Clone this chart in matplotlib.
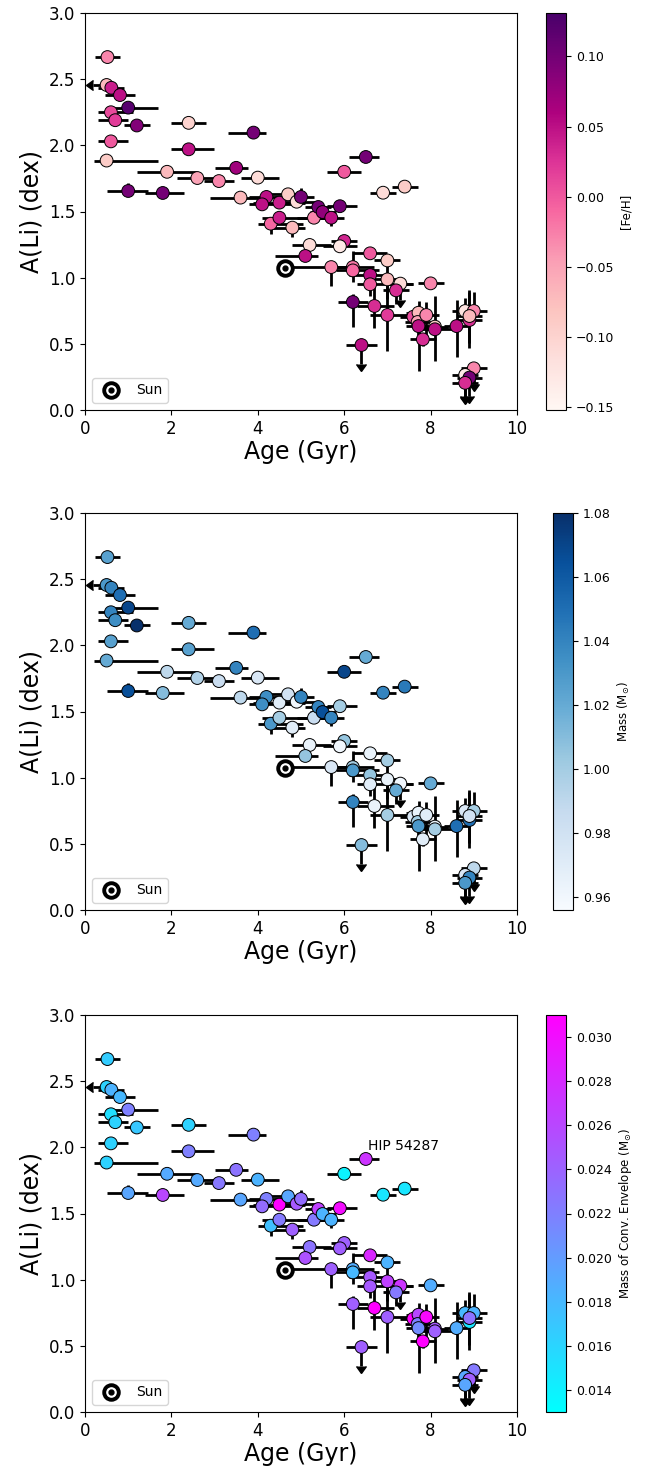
import numpy as np
import matplotlib
matplotlib.use("Agg")
import matplotlib.pyplot as plt
from matplotlib.legend_handler import HandlerTuple
from matplotlib.lines import CARETDOWNBASE, CARETLEFTBASE

# ---- stellar sample -------------------------------------------------------
age = [0.52, 0.50, 0.61, 0.81, 1.00, 0.60, 0.70, 1.20, 0.60, 0.50,
       1.00, 1.80, 1.90, 2.40, 2.40, 2.60, 3.10, 3.50, 3.60, 3.90,
       4.00, 4.20, 4.10, 4.50, 4.70, 4.90, 5.00, 4.30, 4.50, 4.80,
       5.30, 5.40, 5.50, 5.70, 5.90, 6.00, 6.50, 6.90, 7.40, 5.20,
       5.10, 6.00, 5.90, 5.70, 6.20, 6.20, 6.60, 7.00, 6.60, 6.60,
       7.00, 7.30, 7.20, 8.00, 6.20, 6.70, 7.00, 6.40, 7.60, 7.72,
       7.70, 7.72, 7.90, 7.82, 8.10, 8.10, 8.60, 8.80, 9.00, 8.90,
       8.90, 9.00, 8.80, 8.90, 8.80]
age_lo = [0.30, 0.32, 0.30, 0.35, 0.34, 0.30, 0.40, 0.30, 0.30, 0.30,
          0.50, 0.40, 0.70, 0.40, 0.40, 0.48, 0.35, 0.50, 0.70, 0.60,
          0.40, 0.40, 0.30, 0.60, 0.50, 0.50, 0.60, 0.30, 0.40, 0.50,
          0.40, 0.30, 0.30, 0.30, 0.30, 0.40, 0.38, 0.30, 0.30, 0.40,
          0.70, 0.30, 0.40, 0.90, 0.50, 0.40, 0.40, 0.30, 0.50, 0.30,
          0.30, 0.30, 0.30, 0.30, 0.35, 0.40, 0.40, 0.35, 0.30, 0.30,
          0.30, 0.30, 0.30, 0.30, 0.30, 0.30, 0.30, 0.30, 0.30, 0.30,
          0.30, 0.30, 0.30, 0.30, 0.30]
age_hi = [0.30, 0.00, 0.30, 0.35, 0.70, 0.50, 0.30, 0.30, 0.40, 1.20,
          0.45, 0.50, 0.70, 0.40, 0.58, 0.50, 0.35, 0.28, 0.55, 0.30,
          0.50, 0.40, 0.80, 0.60, 0.30, 0.50, 0.30, 0.75, 1.00, 0.30,
          0.30, 0.30, 0.30, 0.30, 0.40, 0.40, 0.30, 0.30, 0.30, 0.50,
          0.30, 0.30, 0.40, 0.40, 0.50, 0.60, 0.40, 0.30, 0.30, 1.00,
          0.30, 0.30, 0.30, 0.30, 0.35, 0.45, 0.60, 0.35, 0.30, 0.30,
          0.30, 0.30, 0.30, 0.30, 0.30, 0.50, 0.30, 0.30, 0.30, 0.30,
          0.30, 0.30, 0.30, 0.30, 0.30]
# age upper limits (only the lower side of the bar is drawn)
age_limit = [False, True] + [False] * 73

ali = [2.667, 2.456, 2.435, 2.380, 2.285, 2.250, 2.190, 2.150, 2.030, 1.885,
       1.655, 1.640, 1.800, 2.170, 1.970, 1.753, 1.730, 1.830, 1.605, 2.096,
       1.756, 1.610, 1.554, 1.567, 1.630, 1.574, 1.610, 1.408, 1.453, 1.378,
       1.453, 1.534, 1.496, 1.453, 1.540, 1.800, 1.912, 1.642, 1.688, 1.247,
       1.164, 1.277, 1.237, 1.080, 1.080, 1.055, 1.184, 1.130, 1.020, 0.950,
       0.987, 0.955, 0.904, 0.957, 0.816, 0.786, 0.718, 0.491, 0.705, 0.735,
       0.665, 0.634, 0.718, 0.534, 0.630, 0.610, 0.634, 0.748, 0.748, 0.680,
       0.710, 0.315, 0.265, 0.245, 0.205]
ali_lo = [0.00, 0.00, 0.00, 0.00, 0.00, 0.00, 0.00, 0.00, 0.00, 0.00,
          0.02, 0.00, 0.00, 0.00, 0.00, 0.00, 0.00, 0.00, 0.00, 0.00,
          0.00, 0.00, 0.00, 0.00, 0.00, 0.00, 0.03, 0.08, 0.00, 0.07,
          0.00, 0.00, 0.00, 0.06, 0.00, 0.00, 0.00, 0.00, 0.00, 0.00,
          0.00, 0.00, 0.00, 0.14, 0.11, 0.00, 0.00, 0.00, 0.00, 0.09,
          0.15, 0.12, 0.10, 0.00, 0.19, 0.17, 0.27, 0.14, 0.00, 0.00,
          0.10, 0.34, 0.19, 0.05, 0.26, 0.00, 0.23, 0.08, 0.07, 0.21,
          0.20, 0.12, 0.16, 0.14, 0.11]
ali_hi = [0.00, 0.00, 0.00, 0.00, 0.00, 0.00, 0.00, 0.00, 0.00, 0.00,
          0.06, 0.00, 0.00, 0.00, 0.00, 0.00, 0.00, 0.00, 0.00, 0.00,
          0.00, 0.00, 0.00, 0.00, 0.00, 0.00, 0.07, 0.03, 0.00, 0.03,
          0.00, 0.00, 0.00, 0.03, 0.00, 0.00, 0.00, 0.00, 0.00, 0.00,
          0.00, 0.00, 0.00, 0.03, 0.12, 0.00, 0.00, 0.00, 0.00, 0.03,
          0.15, 0.00, 0.03, 0.00, 0.06, 0.17, 0.29, 0.00, 0.00, 0.00,
          0.10, 0.19, 0.10, 0.05, 0.23, 0.00, 0.20, 0.10, 0.14, 0.21,
          0.20, 0.00, 0.00, 0.00, 0.00]
# A(Li) upper limits
li_limit = [False] * 75
for i in (51, 57, 71, 72, 73, 74):
    li_limit[i] = True

feh = [-0.03, -0.07, 0.04, 0.05, 0.12, 0.01, 0.02, 0.09, 0.00, -0.09,
       0.10, 0.10, -0.07, -0.10, 0.05, -0.05, -0.03, 0.07, -0.07, 0.10,
       -0.11, 0.05, 0.05, 0.04, -0.09, -0.11, 0.10, -0.01, 0.04, -0.07,
       -0.03, 0.10, 0.08, 0.05, 0.10, 0.00, 0.10, -0.11, -0.09, -0.11,
       0.05, 0.035, -0.13, -0.03, -0.02, -0.01, 0.00, -0.09, 0.05, 0.00,
       -0.07, -0.11, 0.03, -0.03, 0.10, 0.03, 0.02, 0.05, 0.01, -0.07,
       -0.05, 0.05, -0.03, 0.03, -0.09, 0.05, 0.05, -0.12, -0.03, 0.03,
       -0.07, -0.03, -0.13, 0.10, 0.03]
mass = [1.025, 1.030, 1.040, 1.050, 1.070, 1.040, 1.035, 1.080, 1.025, 1.020,
        1.065, 1.010, 0.990, 1.020, 1.025, 0.995, 0.985, 1.040, 0.990, 1.050,
        0.975, 1.035, 1.035, 0.970, 0.980, 0.960, 1.040, 1.030, 1.000, 0.970,
        0.985, 1.040, 1.065, 1.040, 1.000, 1.070, 1.020, 1.040, 1.045, 0.965,
        1.005, 1.005, 0.960, 0.975, 1.000, 1.030, 0.965, 1.000, 1.005, 0.970,
        0.965, 0.960, 1.020, 1.020, 1.040, 0.965, 1.000, 1.010, 0.975, 0.965,
        1.000, 1.030, 0.970, 0.970, 0.965, 1.000, 1.050, 0.975, 1.000, 1.050,
        0.980, 0.990, 0.975, 1.040, 1.030]
m_cz = [0.0166, 0.0162, 0.0184, 0.0180, 0.0220, 0.0153, 0.0162, 0.0170, 0.0162, 0.0162,
        0.0193, 0.0260, 0.0190, 0.0162, 0.0220, 0.0190, 0.0225, 0.0229, 0.0193, 0.0220,
        0.0184, 0.0220, 0.0234, 0.0310, 0.0193, 0.0247, 0.0234, 0.0175, 0.0224, 0.0242,
        0.0224, 0.0265, 0.0184, 0.0184, 0.0301, 0.0139, 0.0274, 0.0148, 0.0148, 0.0229,
        0.0252, 0.0242, 0.0243, 0.0242, 0.0188, 0.0180, 0.0283, 0.0184, 0.0247, 0.0247,
        0.0265, 0.0274, 0.0224, 0.0188, 0.0243, 0.0310, 0.0242, 0.0243, 0.0310, 0.0260,
        0.0220, 0.0211, 0.0305, 0.0310, 0.0247, 0.0242, 0.0188, 0.0180, 0.0184, 0.0148,
        0.0229, 0.0224, 0.0193, 0.0243, 0.0193]

sun_age, sun_ali = 4.62, 1.07

panels = [
    dict(c=feh, cmap="RdPu", vmin=-0.152, vmax=0.131,
         ticks=[-0.15, -0.10, -0.05, 0.00, 0.05, 0.10], fmt="{:.2f}",
         label="[Fe/H]", pos=(85, 13), cpos=546),
    dict(c=mass, cmap="Blues", vmin=0.956, vmax=1.08,
         ticks=[0.96, 0.98, 1.00, 1.02, 1.04, 1.06, 1.08], fmt="{:.2f}",
         label=r"Mass (M$_{\odot}$)", pos=(85, 513), cpos=553),
    dict(c=m_cz, cmap="cool", vmin=0.013, vmax=0.031,
         ticks=[0.014, 0.016, 0.018, 0.020, 0.022, 0.024, 0.026, 0.028, 0.030],
         fmt="{:.3f}", label=r"Mass of Conv. Envelope (M$_{\odot}$)",
         pos=(85, 1015), cpos=546),
]

W, H = 651, 1469
fig = plt.figure(figsize=(W / 100, H / 100), dpi=100)

age = np.array(age)
ali = np.array(ali)
age_lo = np.array(age_lo)
ali_lo = np.array(ali_lo)
xerr = np.array([age_lo, age_hi])
yerr = np.array([ali_lo, ali_hi])
ylim_ = np.array(li_limit)
xlim_ = np.array(age_limit)

for k, p in enumerate(panels):
    x0, y0 = p["pos"]
    ax = fig.add_axes([x0 / W, 1 - (y0 + 397) / H, 432 / W, 397 / H])
    cax = fig.add_axes([p["cpos"] / W, 1 - (y0 + 397) / H, 20 / W, 397 / H])

    ax.errorbar(age, ali, xerr=xerr, yerr=yerr, fmt="none", ecolor="k",
                elinewidth=2, capsize=0, zorder=1)
    # arrow heads at the end of the limit bars
    ax.plot(age[ylim_], ali[ylim_] - ali_lo[ylim_], ls="none",
            marker=CARETDOWNBASE, ms=7, color="k", zorder=1)
    ax.plot(age[xlim_] - age_lo[xlim_], ali[xlim_], ls="none",
            marker=CARETLEFTBASE, ms=7, color="k", zorder=1, clip_on=False)

    sc = ax.scatter(age, ali, c=p["c"], cmap=p["cmap"], vmin=p["vmin"],
                    vmax=p["vmax"], s=85, edgecolors="k", linewidths=0.7,
                    zorder=2)

    h1, = ax.plot(sun_age, sun_ali, "o", ms=10.5, mfc="white", mec="k",
                  mew=2.8, zorder=3)
    h2, = ax.plot(sun_age, sun_ali, "o", ms=3.5, color="k", zorder=4)
    ax.legend([(h1, h2)], ["Sun"], handler_map={tuple: HandlerTuple()},
              loc="lower left", fontsize=10)

    if k == 2:
        ax.text(6.55, 1.955, "HIP 54287", fontsize=10, va="bottom")

    ax.set_xlim(0, 10)
    ax.set_ylim(0, 3.0)
    ax.set_xticks([0, 2, 4, 6, 8, 10])
    ax.set_yticks([0.0, 0.5, 1.0, 1.5, 2.0, 2.5, 3.0])
    ax.tick_params(labelsize=12)
    ax.set_xlabel("Age (Gyr)", fontsize=17, labelpad=2)
    ax.set_ylabel("A(Li) (dex)", fontsize=17)

    cb = fig.colorbar(sc, cax=cax)
    cb.set_ticks(p["ticks"])
    cb.set_ticklabels([p["fmt"].format(t).replace("-", "\u2212")
                       for t in p["ticks"]])
    cb.ax.tick_params(labelsize=9)
    cb.set_label(p["label"], fontsize=8.5)

fig.savefig("out.png", dpi=100)
